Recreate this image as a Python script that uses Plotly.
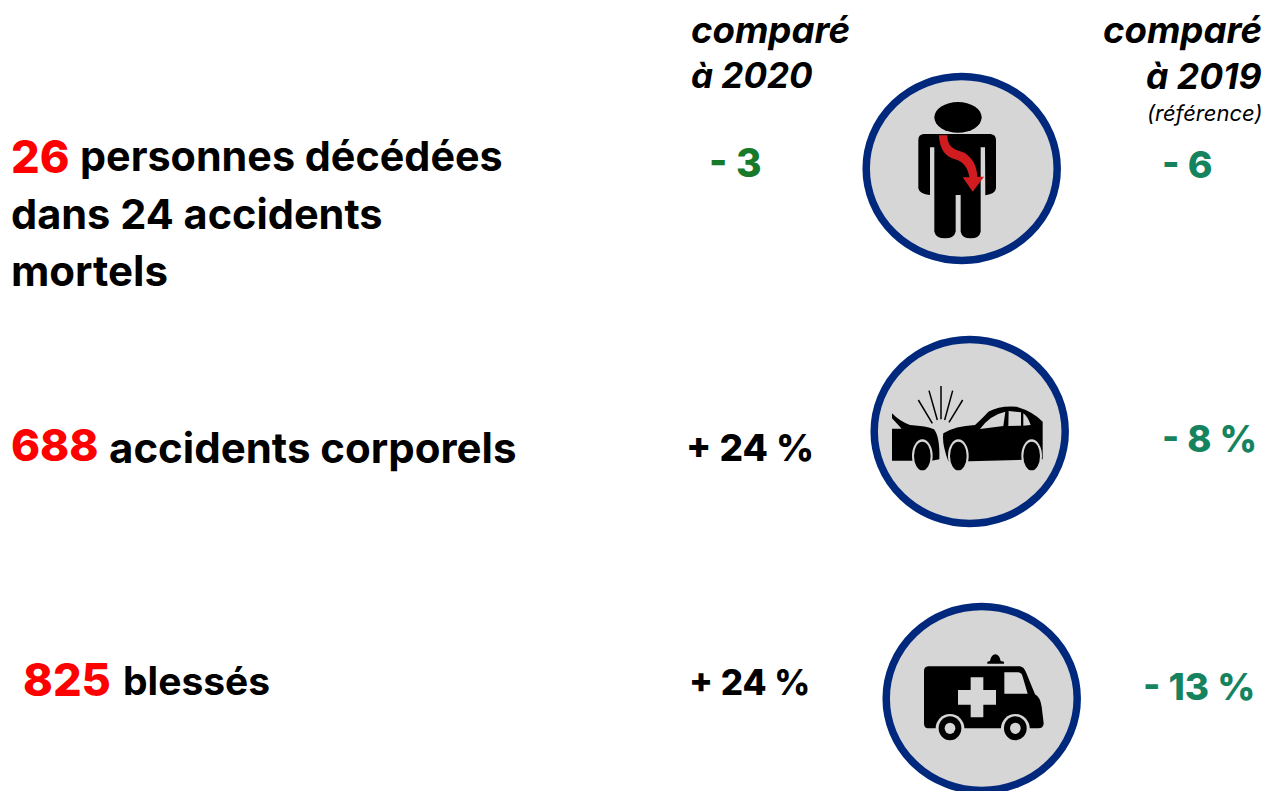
import re
import plotly.graph_objects as go

W, H = 1265, 791
FONT = "Inter"
RED, BLACK = "#fe0000", "#000000"
GREEN_A, GREEN_B = "#177a2a", "#16835f"
NAVY, DISC = "#00287c", "#d6d6d6"

# Text content
stat_numbers = ["26", "688", "825"]
stat_labels = ["personnes décédées", "accidents corporels", "blessés"]
stat_extra_lines = ["dans 24 accidents", "mortels"]
col_2020_header = ["comparé", "à 2020"]
col_2019_header = ["comparé", "à 2019"]
col_2019_note = "(référence)"
delta_2020 = ["- 3", "+ 24 %", "+ 24 %"]
delta_2019 = ["- 6", "- 8 %", "- 13 %"]
delta_2020_colors = [GREEN_A, BLACK, BLACK]

# Layout of each row
number_pos = [(9, 156), (9, 445), (21, 679)]
number_sizes = [45, 44, 45]
label_pos = [(78, 156), (107, 447), (121, 680)]
label_sizes = [41.3, 42, 39]
extra_pos = [(9, 214), (9, 270)]
extra_sizes = [41.5, 42]
d2020_pos = [(735, 162), (750, 447), (749, 682)]
d2020_sizes = [39, 37, 35]
d2019_pos = [(1187, 164), (1209, 439), (1199, 686)]
d2019_sizes = [37.5, 36.5, 37]
discs = [(961.7, 168.5), (969.7, 431.5), (981.7, 698.5)]
DISC_RX, DISC_RY = 95.5, 92

annotations = []
def txt(x, y, s, size, color=BLACK, anchor="left", weight=700, style="normal"):
    annotations.append(dict(x=x, y=y, xref="x", yref="y", text=s, showarrow=False,
                            xanchor=anchor, yanchor="middle", align=anchor,
                            font=dict(family=FONT, size=size, color=color, weight=weight, style=style)))

for s, p, z in zip(stat_numbers, number_pos, number_sizes):
    txt(p[0], p[1], s, z, RED, weight=800)
for s, p, z in zip(stat_labels, label_pos, label_sizes):
    txt(p[0], p[1], s, z)
for s, p, z in zip(stat_extra_lines, extra_pos, extra_sizes):
    txt(p[0], p[1], s, z)
for s, p, c, z in zip(delta_2020, d2020_pos, delta_2020_colors, d2020_sizes):
    txt(p[0], p[1], s, z, c, anchor="center", weight=800)
for s, p, z in zip(delta_2019, d2019_pos, d2019_sizes):
    txt(p[0], p[1], s, z, GREEN_B, anchor="center", weight=800)
txt(689, 30, col_2020_header[0], 36.6, style="italic")
txt(689, 75, col_2020_header[1], 35, style="italic")
txt(1264, 30, col_2019_header[0], 36.6, anchor="right", style="italic")
txt(1264, 76, col_2019_header[1], 35.5, anchor="right", style="italic")
txt(1264, 113, col_2019_note, 22, anchor="right", weight=400, style="italic")

shapes = []
def ell_abs(cx, cy, rx, ry, fill, line, lw):
    shapes.append(dict(type="circle", xref="x", yref="y", x0=cx - rx, x1=cx + rx, y0=cy - ry, y1=cy + ry,
                       fillcolor=fill, line=dict(color=line, width=lw)))

def ell(o, cx, cy, rx, ry, fill):
    shapes.append(dict(type="circle", xref="x", yref="y",
                       x0=o[0] + (cx - rx) / 3, x1=o[0] + (cx + rx) / 3,
                       y0=o[1] + (cy - ry) / 3, y1=o[1] + (cy + ry) / 3,
                       fillcolor=fill, line=dict(width=0)))

def path(o, d, fill=BLACK, line=None, lw=0):
    out, i = [], 0
    for tok in re.findall(r"[A-Za-z]|-?[\d.]+", d):
        if tok.isalpha():
            out.append(tok)
        else:
            out.append(f"{o[i % 2] + float(tok) / 3:.2f}")
            i += 1
    shapes.append(dict(type="path", xref="x", yref="y", path=" ".join(out),
                       fillcolor=fill, line=dict(color=line or fill, width=lw)))

for c in discs:
    ell_abs(c[0], c[1], DISC_RX, DISC_RY, DISC, NAVY, 7.5)

# person icon
o = (850, 60)
ell(o, 324, 172, 71, 46, BLACK)
path(o, """M220 222 L422 222 Q438 224 438 240 L438 385 Q436 402 406 406 L405 262 L392 262 L392 515
Q388 535 362 535 Q336 535 332 515 L332 405 L317 405 L317 515 Q312 535 285 535 Q258 535 253 515
L253 262 L240 262 L240 405 Q208 402 205 385 L205 240 Q205 224 220 222 Z""")
path(o, """M267 226 L292 226 C292 260 310 268 335 275 C365 285 382 320 382 350 L402 350 L368 395 L338 352
L358 352 C355 325 340 305 315 298 C285 290 268 265 267 226 Z""", "#d01c1f")

# crash icon
o = (860, 330)
path(o, """M96 250 Q120 275 150 285 Q200 288 222 298 Q240 320 238 388 L215 392 L96 392 L96 296 L125 296
Q108 278 96 265 Z""")
path(o, """M250 310 Q285 288 345 285 Q370 262 385 245 Q420 226 470 230 Q520 245 548 275 L548 388 L330 394
L265 394 Q245 340 250 310 Z""")
path(o, "M360 297 Q390 255 436 245 L430 288 Z", DISC)
path(o, "M446 243 L483 247 L483 287 L445 288 Z", DISC)
path(o, "M490 250 Q502 258 512 285 L490 287 Z", DISC)
for cx in (187, 295, 515):
    ell(o, cx, 378, 31, 50, DISC)
    ell(o, cx, 378, 25, 43, BLACK)
for a, b, c, d in [(175, 210, 217, 280), (207, 182, 232, 270), (243, 168, 243, 268), (278, 182, 254, 270), (308, 210, 267, 277)]:
    path(o, f"M{a} {b} L{c} {d}", "rgba(0,0,0,0)", BLACK, 1.5)

# ambulance icon
o = (870, 595)
path(o, """M175 214 L450 214 Q462 216 468 232 L495 298 Q510 305 515 335 L521 385 Q521 400 505 400
L172 400 Q162 398 162 385 L162 228 Q162 215 175 214 Z""")
path(o, "M403 232 L445 232 Q455 233 458 245 L473 296 L403 296 Z", DISC)
path(o, "M302 247 L340 247 L340 285 L378 285 L378 329 L340 329 L340 367 L302 367 L302 329 L264 329 L264 285 L302 285 Z", DISC)
path(o, "M352 206 L402 206 L402 200 L392 198 Q388 178 376 178 Q364 178 360 198 L352 200 Z")
for cx in (240, 436):
    ell(o, cx, 400, 43, 43, DISC)
    ell(o, cx, 400, 34, 36, BLACK)
    ell(o, cx, 400, 16, 17, DISC)

fig = go.Figure()
fig.update_layout(width=W, height=H, margin=dict(l=0, r=0, t=0, b=0),
                  paper_bgcolor="white", plot_bgcolor="white", showlegend=False,
                  xaxis=dict(range=[0, W], visible=False, fixedrange=True),
                  yaxis=dict(range=[H, 0], visible=False, fixedrange=True),
                  shapes=shapes, annotations=annotations)
fig.write_html("out.html", config=dict(displayModeBar=False),
               post_script="document.body.style.margin='0';document.body.style.overflow='hidden';")
